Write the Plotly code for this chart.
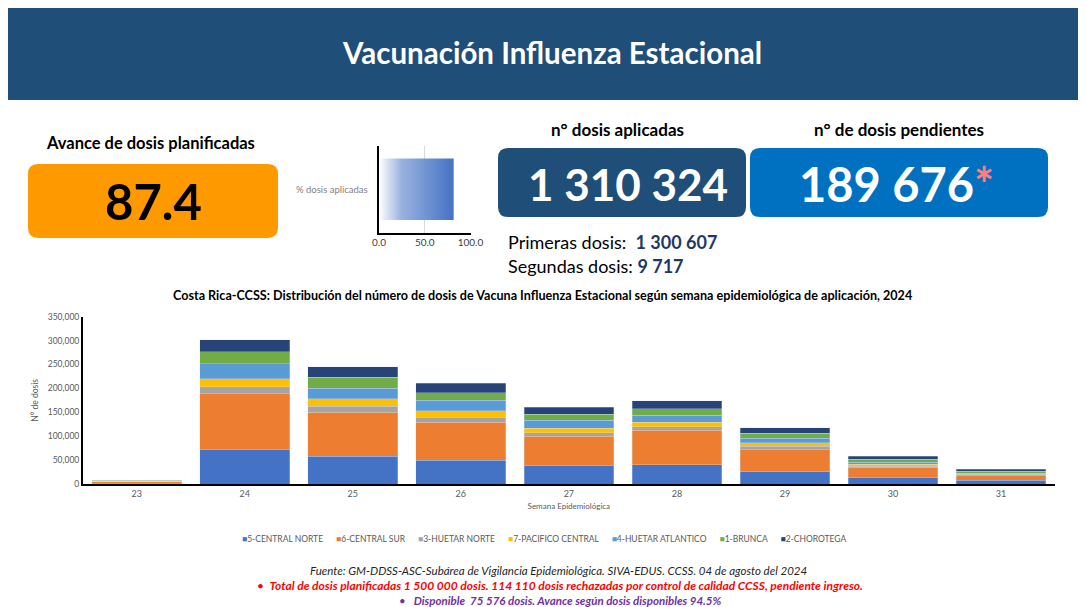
import plotly.graph_objects as go

# ---------------- data ----------------
weeks = ["23", "24", "25", "26", "27", "28", "29", "30", "31"]
regions = ["5-CENTRAL NORTE", "6-CENTRAL SUR", "3-HUETAR NORTE", "7-PACIFICO CENTRAL",
           "4-HUETAR ATLANTICO", "1-BRUNCA", "2-CHOROTEGA"]
central_norte = [1200, 71700, 58400, 49400, 38300, 40400, 25700, 13200, 7700]
central_sur = [3600, 116900, 91200, 79300, 61200, 71600, 46000, 21600, 9700]
huetar_norte = [400, 15300, 13200, 10500, 7700, 7700, 6900, 2800, 2800]
pacifico_central = [400, 16700, 15300, 13900, 9700, 9700, 7700, 3500, 1400]
huetar_atlantico = [600, 31300, 22300, 21600, 16000, 14600, 9000, 4800, 1400]
brunca = [1200, 24300, 23000, 16700, 13200, 13900, 10500, 6300, 4100]
chorotega = [600, 25100, 21500, 19500, 14600, 16100, 11800, 6200, 4200]
series_values = [central_norte, central_sur, huetar_norte, pacifico_central,
                 huetar_atlantico, brunca, chorotega]
colors = ["#4472C4", "#ED7D31", "#A5A5A5", "#FFC000", "#5B9BD5", "#70AD47", "#264478"]

y_ticks = [0, 50000, 100000, 150000, 200000, 250000, 300000, 350000]
y_tick_labels = ["0", "50,000", "100,000", "150,000", "200,000", "250,000", "300,000", "350,000"]

gauge_label = "% dosis aplicadas"
gauge_value = 81.6
gauge_ticks = [0, 50, 100]
gauge_tick_labels = ["0.0", "50.0", "100.0"]

avance = "87.4"
dosis_aplicadas = "1 310 324"
dosis_pendientes = "189 676"
primeras = "1 300 607"
segundas = "9 717"

# page body has an 8px margin: the figure is drawn from (8, 8) of the window
OFF = 8
WIN_W, WIN_H = 1086, 607
W, H = WIN_W - OFF, WIN_H - OFF
FONT = "Lato, 'Open Sans', sans-serif"


def px(x):
    return (x - OFF) / W


def py(y):
    return 1 - (y - OFF) / H


def rrect(x0, y0, x1, y1, r):
    def P(x, y):
        return f"{px(x):.5f},{py(y):.5f}"
    return (f"M {P(x0 + r, y0)} L {P(x1 - r, y0)} Q {P(x1, y0)} {P(x1, y0 + r)} "
            f"L {P(x1, y1 - r)} Q {P(x1, y1)} {P(x1 - r, y1)} L {P(x0 + r, y1)} "
            f"Q {P(x0, y1)} {P(x0, y1 - r)} L {P(x0, y0 + r)} Q {P(x0, y0)} {P(x0 + r, y0)} Z")


fig = go.Figure()

for name, vals, col in zip(regions, series_values, colors):
    fig.add_trace(go.Bar(x=weeks, y=vals, name=name,
                         marker=dict(color=col, line=dict(color="rgba(220,230,242,0.6)", width=0.5)),
                         xaxis="x", yaxis="y", showlegend=False))

# gauge bar with gradient
fig.add_trace(go.Scatter(x=[0, gauge_value, gauge_value, 0, 0], y=[-0.355, -0.355, 0.355, 0.355, -0.355],
                         fill="toself", mode="lines", line=dict(width=0),
                         fillgradient=dict(type="horizontal",
                                           colorscale=[[0, "#FFFFFF"], [0.3, "#9AB2E0"], [1, "#4472C4"]]),
                         showlegend=False, xaxis="x2", yaxis="y2", hoverinfo="skip"))

shapes = [
    dict(type="rect", xref="paper", yref="paper", x0=px(8), x1=px(1086), y0=py(100), y1=py(8),
         fillcolor="#1F4E79", line=dict(width=0), layer="below"),
    dict(type="path", xref="paper", yref="paper", path=rrect(28, 164, 278, 238, 10),
         fillcolor="#FF9900", line=dict(width=0)),
    dict(type="path", xref="paper", yref="paper", path=rrect(498, 148, 746, 217, 10),
         fillcolor="#1F4E79", line=dict(width=0)),
    dict(type="path", xref="paper", yref="paper", path=rrect(750, 148, 1048, 217, 10),
         fillcolor="#0070C0", line=dict(width=0)),
]

ann = []


def text(x, y, t, size, color="#000000", bold=False, italic=False, xanchor="center"):
    s = t
    if bold:
        s = f"<b>{s}</b>"
    if italic:
        s = f"<i>{s}</i>"
    ann.append(dict(x=px(x), y=py(y), xref="paper", yref="paper", text=s, showarrow=False,
                    xanchor=xanchor, yanchor="middle", font=dict(family=FONT, size=size, color=color)))


text(552, 52, "Vacunación Influenza Estacional", 29.5, "#FFFFFF", bold=True)
text(150, 143, "Avance de dosis planificadas", 16.5, bold=True)
text(153, 201, avance, 49, bold=True)
text(370, 189, gauge_label, 9.5, "#7F7F7F", xanchor="right")
text(617, 130, "n° dosis aplicadas", 17, bold=True)
text(899, 130, "n° de dosis pendientes", 17, bold=True)
text(628, 184, dosis_aplicadas, 44, "#FFFFFF", bold=True)
text(896, 184, dosis_pendientes + "<span style='color:#FF7C80'>*</span>", 47, "#FFFFFF", bold=True)
text(506, 242, f"Primeras dosis:  <b><span style='color:#1F3864'>{primeras}</span></b>", 18, xanchor="left")
text(506, 266, f"Segundas dosis: <b><span style='color:#1F3864'>{segundas}</span></b>", 18, xanchor="left")
text(542, 295, "Costa Rica-CCSS: Distribución del número de dosis de Vacuna Influenza Estacional según semana epidemiológica de aplicación, 2024",
     12.6, bold=True)
text(558, 570, "Fuente: GM-DDSS-ASC-Subárea de Vigilancia Epidemiológica. SIVA-EDUS. CCSS. 04 de agosto del 2024",
     11.5, "#262626", italic=True)
text(560, 585, "•  <b>Total de dosis planificadas 1 500 000 dosis. 114 110 dosis rechazadas por control de calidad CCSS, pendiente ingreso.</b>",
     12, "#FF0000", italic=True)
text(560, 600, "•   <b>Disponible  75 576 dosis. Avance según dosis disponibles 94.5%</b>", 11.5, "#7030A0", italic=True)

# legend built from the series names and colours
legend_html = "&nbsp;&nbsp;&nbsp;&nbsp;&nbsp;&nbsp;".join(
    f"<span style='color:{c}'>■</span>{n}" for n, c in zip(regions, colors))
text(544, 539, legend_html, 8.5, "#595959")

fig.update_layout(
    template="none",
    width=W, height=H, margin=dict(l=0, r=0, t=0, b=0, autoexpand=False),
    paper_bgcolor="#FFFFFF", plot_bgcolor="rgba(0,0,0,0)",
    barmode="stack", bargap=0.17, showlegend=False,
    font=dict(family=FONT, color="#595959"),
    shapes=shapes, annotations=ann,
    xaxis=dict(domain=[px(82.7), px(1055)], anchor="y", type="category", automargin=False,
               showline=True, linecolor="#000000", linewidth=2, ticks="", showgrid=False,
               tickfont=dict(size=9, color="#595959"),
               title=dict(text="Semana Epidemiológica", font=dict(size=8, color="#595959"), standoff=6)),
    yaxis=dict(domain=[py(484), py(316.7)], anchor="x", range=[0, 350000], automargin=False,
               tickvals=y_ticks, ticktext=y_tick_labels, showgrid=False, zeroline=False,
               showline=True, linecolor="#000000", linewidth=1.5, ticks="",
               tickfont=dict(size=8.5, color="#595959"),
               title=dict(text="N° de dosis", font=dict(size=8.5, color="#595959"), standoff=8)),
    xaxis2=dict(domain=[px(379), px(470.5)], anchor="y2", range=[0, 100], automargin=False,
                tickvals=gauge_ticks, ticktext=gauge_tick_labels, showgrid=True, gridcolor="#D9D9D9",
                zeroline=False, showline=True, linecolor="#000000", linewidth=1.5, ticks="",
                tickfont=dict(size=10, color="#404040")),
    yaxis2=dict(domain=[py(232.5), py(146)], anchor="x2", range=[-0.5, 0.5], automargin=False,
                showticklabels=False, showgrid=False, zeroline=False,
                showline=True, linecolor="#000000", linewidth=1.5, ticks=""),
)

fig.write_html("out.html")
